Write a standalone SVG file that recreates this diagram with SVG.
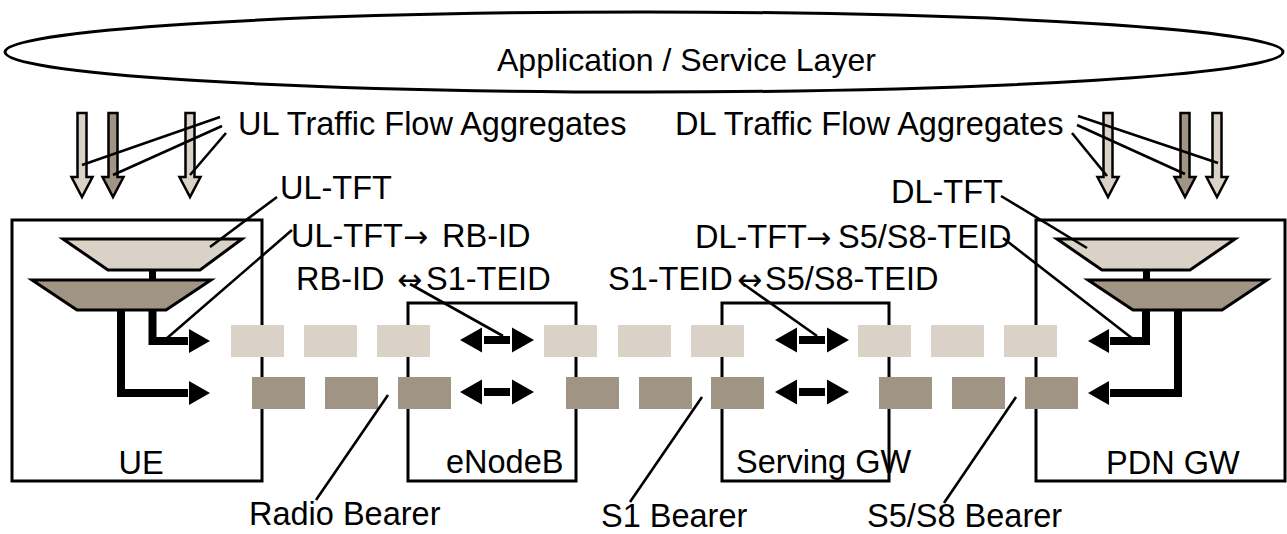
<svg xmlns="http://www.w3.org/2000/svg" width="1287" height="534" viewBox="0 0 1287 534">
<style>
text{font-family:"Liberation Sans",Arial,sans-serif;font-size:32.5px;fill:#000}
.sym{font-family:"DejaVu Sans",sans-serif;font-size:30px}
.node{fill:#fff;stroke:#000;stroke-width:3}
.lt{fill:#DAD2C6}
.dk{fill:#A09484}
.trap{stroke:#000;stroke-width:3;stroke-linejoin:miter}
.va{stroke:#000;stroke-width:2.5;stroke-linejoin:miter}
.thick{fill:none;stroke:#000;stroke-width:8;stroke-linejoin:miter}
.lead{stroke:#000;stroke-width:2.6;fill:none}
.gap{fill:#fff}
</style>
<defs>
<path id="vflow" d="M-4.5,113 H4.5 V177 H10.5 L0,197 L-10.5,177 H-4.5 Z"/>
<g id="dbl">
<rect x="20" y="-4" width="34" height="8" fill="#000"/>
<rect x="21.5" y="-4" width="2.5" height="8" class="gap"/>
<rect x="50" y="-4" width="2.5" height="8" class="gap"/>
<polygon points="0,0 22,-12.5 22,12.5" fill="#000"/>
<polygon points="74,0 52,-12.5 52,12.5" fill="#000"/>
</g>
</defs>

<g id="service-layer">
<ellipse cx="644" cy="52" rx="639" ry="40" fill="#fff" stroke="#000" stroke-width="3"/>
<text x="497" y="71" style="font-size:32px">Application / Service Layer</text>
</g>

<g id="ue">
<rect class="node" x="12" y="220" width="250" height="261"/>
<text x="141" y="474" text-anchor="middle">UE</text>
<polygon class="lt trap" points="63,239 242,239 200,270 108,270"/>
<rect x="149" y="270" width="7" height="10" fill="#000"/>
<polygon class="dk trap" points="32,280 211,280 166,310 77,310"/>
<path class="thick" d="M152.5,311 V341 H189"/>
<path class="thick" d="M121,311 V393 H189"/>
<rect class="gap" x="188" y="337" width="2.5" height="8"/>
<rect class="gap" x="188" y="389" width="2.5" height="8"/>
<polygon points="210,341 189,329 189,353" fill="#000"/>
<polygon points="210,393 189,381 189,405" fill="#000"/>
</g>

<g id="enodeb">
<rect class="node" x="408" y="303" width="168" height="178"/>
<text x="446" y="473">eNodeB</text>
</g>

<g id="serving-gw">
<rect class="node" x="722" y="303" width="167" height="178"/>
<text x="736" y="473">Serving GW</text>
</g>

<g id="pdn-gw">
<rect class="node" x="1036" y="220" width="249" height="261"/>
<text x="1106" y="474">PDN GW</text>
<polygon class="lt trap" points="1057,239 1235,239 1190,270 1102,270"/>
<rect x="1143" y="270" width="7" height="10" fill="#000"/>
<polygon class="dk trap" points="1088,280 1267,280 1222,310 1133,310"/>
<path class="thick" d="M1146,311 V341 H1109"/>
<path class="thick" d="M1178,311 V393 H1109"/>
<rect class="gap" x="1107.5" y="337" width="2.5" height="8"/>
<rect class="gap" x="1107.5" y="389" width="2.5" height="8"/>
<polygon points="1088,341 1109,329 1109,353" fill="#000"/>
<polygon points="1088,393 1109,381 1109,405" fill="#000"/>
</g>

<g id="ul-flows">
<use href="#vflow" x="82" class="lt va"/>
<use href="#vflow" x="113" class="dk va"/>
<use href="#vflow" x="190" class="lt va"/>
<text x="238" y="135">UL Traffic Flow Aggregates</text>
</g>

<g id="dl-flows">
<use href="#vflow" x="1108" class="lt va"/>
<use href="#vflow" x="1185" class="dk va"/>
<use href="#vflow" x="1217" class="lt va"/>
<text x="675" y="135">DL Traffic Flow Aggregates</text>
</g>

<g id="radio-bearer">
<rect class="lt" x="231" y="325" width="53" height="32"/>
<rect class="lt" x="304" y="325" width="53" height="32"/>
<rect class="lt" x="377" y="325" width="53" height="32"/>
<rect class="dk" x="252" y="377" width="53" height="32"/>
<rect class="dk" x="325" y="377" width="53" height="32"/>
<rect class="dk" x="398" y="377" width="53" height="32"/>
<text x="249" y="525">Radio Bearer</text>
</g>

<g id="s1-bearer">
<rect class="lt" x="544" y="325" width="53" height="32"/>
<rect class="lt" x="618" y="325" width="53" height="32"/>
<rect class="lt" x="691" y="325" width="53" height="32"/>
<rect class="dk" x="566" y="377" width="53" height="32"/>
<rect class="dk" x="639" y="377" width="53" height="32"/>
<rect class="dk" x="711" y="377" width="53" height="32"/>
<text x="601" y="527">S1 Bearer</text>
</g>

<g id="s5s8-bearer">
<rect class="lt" x="858" y="325" width="53" height="32"/>
<rect class="lt" x="931" y="325" width="53" height="32"/>
<rect class="lt" x="1004" y="325" width="53" height="32"/>
<rect class="dk" x="879" y="377" width="53" height="32"/>
<rect class="dk" x="952" y="377" width="53" height="32"/>
<rect class="dk" x="1025" y="377" width="53" height="32"/>
<text x="867" y="527">S5/S8 Bearer</text>
</g>

<g id="mappings">
<use href="#dbl" x="460" y="340"/>
<use href="#dbl" x="460" y="392"/>
<use href="#dbl" x="775" y="340"/>
<use href="#dbl" x="775" y="392"/>
<text x="280" y="199">UL-TFT</text>
<text y="247"><tspan x="291">UL-TFT</tspan><tspan class="sym" x="403">→</tspan><tspan x="442">RB-ID</tspan></text>
<text y="290"><tspan x="296">RB-ID</tspan><tspan class="sym" x="397">↔</tspan><tspan x="426">S1-TEID</tspan></text>
<text y="290"><tspan x="608">S1-TEID</tspan><tspan class="sym" x="737">↔</tspan><tspan x="765">S5/S8-TEID</tspan></text>
<text x="891" y="203">DL-TFT</text>
<text y="248"><tspan x="695">DL-TFT</tspan><tspan class="sym" x="806">→</tspan><tspan x="838">S5/S8-TEID</tspan></text>
</g>

<g id="connectors">
<line class="lead" x1="220" y1="117" x2="82" y2="165"/>
<line class="lead" x1="222" y1="126" x2="113" y2="175"/>
<line class="lead" x1="226" y1="133" x2="190" y2="175"/>
<line class="lead" x1="1078" y1="116" x2="1218" y2="163"/>
<line class="lead" x1="1077" y1="125" x2="1185" y2="174"/>
<line class="lead" x1="1072" y1="133" x2="1107" y2="176"/>
<line class="lead" x1="277" y1="197" x2="210" y2="247"/>
<line class="lead" x1="292" y1="230" x2="166" y2="339"/>
<line class="lead" x1="410" y1="284" x2="503" y2="336"/>
<line class="lead" x1="742" y1="283" x2="817" y2="336"/>
<line class="lead" x1="1001" y1="196" x2="1087" y2="248"/>
<line class="lead" x1="1003" y1="238" x2="1133" y2="339"/>
<line class="lead" x1="316" y1="500" x2="388" y2="395"/>
<line class="lead" x1="630" y1="502" x2="702" y2="397"/>
<line class="lead" x1="944" y1="503" x2="1016" y2="397"/>
</g>
</svg>
